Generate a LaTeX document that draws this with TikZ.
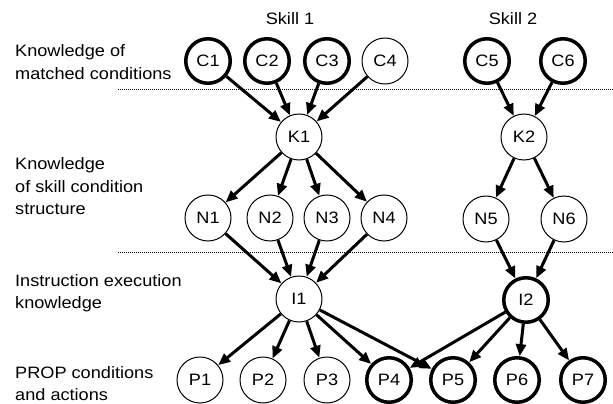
\documentclass[tikz,border=0pt]{standalone}
\usepackage{fontspec}
\setmainfont{Liberation Sans}[FakeStretch=1.1]
\usetikzlibrary{arrows.meta}
\begin{document}
\begin{tikzpicture}[x=1pt,y=-1pt,
  every node/.style={font=\fontsize{16.5}{22.5}\selectfont},
  thin/.style={circle, draw, line width=1pt, minimum size=46pt, inner sep=0pt, fill=white},
  heavy/.style={circle, draw, line width=3.5pt, minimum size=44.5pt, inner sep=0pt, fill=white},
  lbl/.style={anchor=base west, inner sep=0pt},
  ar/.style={-{Triangle[length=12pt,width=10pt]}, line width=3pt},
  sep/.style={line width=0.8pt, dash pattern=on 1pt off 1pt}]
\useasboundingbox (0,0) rectangle (613,404);
% separators
\coordinate (s1a) at (118,89); \coordinate (s1b) at (613,89);
\coordinate (s2a) at (118,252); \coordinate (s2b) at (613,252);
\draw[sep] (s1a) -- (s1b);
\draw[sep] (s2a) -- (s2b);
% headings
\node (sk1) at (290,19) {Skill 1};
\node (sk2) at (513,19) {Skill 2};
% left labels
\node[lbl] (l1a) at (15,57) {Knowledge of};
\node[lbl] (l1b) at (15,79) {matched conditions};
\node[lbl] (l2a) at (15,169) {Knowledge};
\node[lbl] (l2b) at (15,192) {of skill condition};
\node[lbl] (l2c) at (15,214) {structure};
\node[lbl] (l3a) at (15,286) {Instruction execution};
\node[lbl] (l3b) at (15,308) {knowledge};
\node[lbl] (l4a) at (15,378) {PROP conditions};
\node[lbl] (l4b) at (15,400) {and actions};
% nodes
\node[heavy] (C1) at (208,61) {C1};
\node[heavy] (C2) at (267,61) {C2};
\node[heavy] (C3) at (327,61) {C3};
\node[thin]  (C4) at (385,61) {C4};
\node[heavy] (C5) at (487,61) {C5};
\node[heavy] (C6) at (563,61) {C6};
\node[thin] (K1) at (299,137) {K1};
\node[thin] (K2) at (524,137) {K2};
\node[thin] (N1) at (208,218) {N1};
\node[thin] (N2) at (270,218) {N2};
\node[thin] (N3) at (327,218) {N3};
\node[thin] (N4) at (384,218) {N4};
\node[thin] (N5) at (486,219) {N5};
\node[thin] (N6) at (564,219) {N6};
\node[thin]  (I1) at (299,299) {I1};
\node[heavy] (I2) at (526,300) {I2};
\node[thin]  (P1) at (200,380) {P1};
\node[thin]  (P2) at (263,380) {P2};
\node[thin]  (P3) at (327,380) {P3};
\node[heavy] (P4) at (389,380) {P4};
\node[heavy] (P5) at (453,380) {P5};
\node[heavy] (P6) at (517,380) {P6};
\node[heavy] (P7) at (583,380) {P7};
% edges
\foreach \s in {C1,C2,C3,C4} \draw[ar] (\s) -- (K1);
\foreach \s in {C5,C6} \draw[ar] (\s) -- (K2);
\foreach \t in {N1,N2,N3,N4} \draw[ar] (K1) -- (\t);
\foreach \t in {N5,N6} \draw[ar] (K2) -- (\t);
\foreach \s in {N1,N2,N3,N4} \draw[ar] (\s) -- (I1);
\foreach \s in {N5,N6} \draw[ar] (\s) -- (I2);
\foreach \t in {P1,P2,P3,P4,P5} \draw[ar] (I1) -- (\t);
\foreach \t in {P4,P5,P6,P7} \draw[ar] (I2) -- (\t);
\end{tikzpicture}
\end{document}
